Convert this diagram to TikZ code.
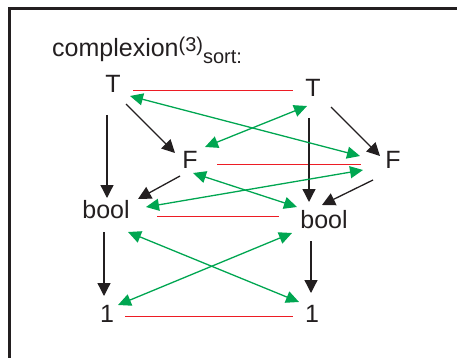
\documentclass[tikz,border=0pt]{standalone}
\usepackage{fontspec}
\setmainfont{Liberation Sans}
\usetikzlibrary{arrows.meta}
\definecolor{ink}{HTML}{231F20}
\definecolor{grn}{HTML}{00A651}
\definecolor{rd}{HTML}{ED1C24}
\tikzset{
  lbl/.style={inner sep=0pt, anchor=base, text=ink, font=\fontsize{25}{25}\selectfont},
  blk/.style={draw=ink, line width=1.3pt, -{Triangle[length=13pt,width=13pt]}},
  grnarr/.style={draw=grn, line width=1.3pt, {Triangle[length=13pt,width=12pt]}-{Triangle[length=13pt,width=12pt]}},
  redline/.style={draw=rd, line width=1.2pt},
  frame/.style={draw=ink, line width=2.5pt}
}
\begin{document}
\begin{tikzpicture}[x=1pt,y=-1pt]
\useasboundingbox (0,0) rectangle (457,358);
\draw[frame] (9.5,360) -- (9.5,8.5) -- (460,8.5);
\node[inner sep=0pt, anchor=base west, text=ink, font=\fontsize{25}{25}\selectfont] (title) at (52,57)
  {complexion\raisebox{5pt}{\fontsize{20}{20}\selectfont(3)}\raisebox{-6.5pt}{\fontsize{20}{20}\selectfont sort:}};
\node[lbl] (T1) at (113,93) {T};
\node[lbl] (T2) at (313,97) {T};
\node[lbl] (F1) at (190,168) {F};
\node[lbl] (F2) at (393,168) {F};
\node[lbl] (B1) at (106,218) {bool};
\node[lbl] (B2) at (324,228) {bool};
\node[lbl] (O1) at (107,322) {1};
\node[lbl] (O2) at (312,322) {1};
% red lines
\draw[redline] ([shift={(20,-2.5)}]T1.base) -- ([shift={(-20,-6.5)}]T2.base);
\draw[redline] ([shift={(27,-3.5)}]F1.base) -- ([shift={(-32,-3.5)}]F2.base);
\draw[redline, line width=1.4pt] ([shift={(51,-1.5)}]B1.base) -- ([shift={(-45,-11.5)}]B2.base);
\draw[redline] ([shift={(18,-5.5)}]O1.base) -- ([shift={(-19,-5.5)}]O2.base);
% black arrows
\draw[blk] ([shift={(-6,22)}]T1.base) -- ([shift={(1,-20)}]B1.base);
\draw[blk] ([shift={(13,11)}]T1.base) -- ([shift={(-15,-15)}]F1.base);
\draw[blk] ([shift={(-4,21)}]T2.base) -- ([shift={(-15,-26)}]B2.base);
\draw[blk] ([shift={(18,10)}]T2.base) -- ([shift={(-13,-12)}]F2.base);
\draw[blk] ([shift={(-10,8)}]F1.base) -- ([shift={(32,-19)}]B1.base);
\draw[blk] ([shift={(-20,12)}]F2.base) -- ([shift={(-2,-23)}]B2.base);
\draw[blk] ([shift={(-2,14)}]B1.base) -- ([shift={(-3,-26)}]O1.base);
\draw[blk] ([shift={(-13,13)}]B2.base) -- ([shift={(-1,-29)}]O2.base);
% green double arrows
\draw[grnarr] ([shift={(17,3)}]T1.base) -- ([shift={(-33,-12)}]F2.base);
\draw[grnarr] ([shift={(-6,9)}]T2.base) -- ([shift={(15,-21)}]F1.base);
\draw[grnarr] ([shift={(3,5)}]F1.base) -- ([shift={(-27,-21)}]B2.base);
\draw[grnarr] ([shift={(-30,2)}]F2.base) -- ([shift={(40,-11)}]B1.base);
\draw[grnarr] ([shift={(22,14)}]B1.base) -- ([shift={(-13,-20)}]O2.base);
\draw[grnarr] ([shift={(-32,5)}]B2.base) -- ([shift={(11,-17)}]O1.base);
\end{tikzpicture}
\end{document}
